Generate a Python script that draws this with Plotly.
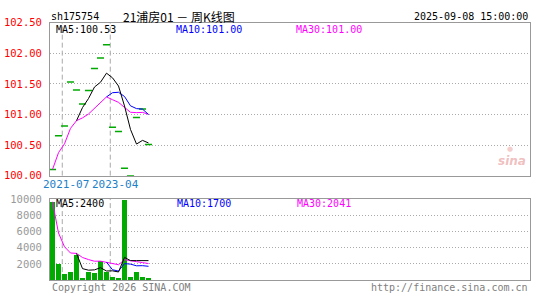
import plotly.graph_objects as go
import pandas as pd

# ---------------- data ----------------
code = "sh175754"
title = "21浦房01 － 周K线图"
timestamp = "2025-09-08 15:00:00"
x_labels = ["2021-07", "2023-04"]
x_label_idx = [3, 11]
close = [100.10, 100.65, 100.81, 101.53, 101.40, 101.17, 101.39, 101.75, 101.92,
         102.14, 100.79, 100.72, 100.12, 100.00, 100.95, 101.09, 100.51]
volume = [9650, 1950, 700, 1050, 3100, 250, 1000, 900, 2400,
          1050, 350, 300, 9900, 400, 1050, 400, 250]
price_ticks = [100.0, 100.5, 101.0, 101.5, 102.0, 102.5]
vol_ticks = [2000, 4000, 6000, 8000, 10000]

# ---------------- derived ----------------
idx = list(range(1, len(close) + 1))
c = pd.Series(close)
v = pd.Series(volume)
ma5 = c.rolling(5).mean()
ma10 = c.rolling(10).mean()
ma30 = c.rolling(30, min_periods=1).mean()
vma5 = v.rolling(5).mean()
vma10 = v.rolling(10).mean()
vma30 = v.rolling(30, min_periods=1).mean()

W, H = 545, 300
def fx(px): return px / W
def fy(py): return 1 - py / H

GREEN = "#00AA00"
MONO = "DejaVu Sans Mono"
PX0, PX1 = 50, 530
P_TOP, P_BOT = 17.3, 176.7
V_TOP, V_BOT = 201, 285.5
x_range = [0.583, 0.583 + (PX1 - PX0) / 6]

fig = go.Figure()
# price panel
fig.add_trace(go.Scatter(x=idx, y=close, mode="markers", xaxis="x", yaxis="y",
                         marker=dict(symbol="line-ew", size=5,
                                     line=dict(color=GREEN, width=1.5)),
                         hoverinfo="skip"))
for s, col in [(ma30, "#FF00FF"), (ma10, "#0000FF"), (ma5, "#000000")]:
    fig.add_trace(go.Scatter(x=idx, y=s, mode="lines", xaxis="x", yaxis="y",
                             line=dict(color=col, width=1), hoverinfo="skip"))
# volume panel
fig.add_trace(go.Bar(x=idx, y=volume, xaxis="x2", yaxis="y2", width=0.83,
                     marker=dict(color=GREEN, line=dict(width=0)), hoverinfo="skip"))
for s, col in [(vma30, "#FF00FF"), (vma10, "#0000FF"), (vma5, "#000000")]:
    fig.add_trace(go.Scatter(x=idx, y=s, mode="lines", xaxis="x2", yaxis="y2",
                             line=dict(color=col, width=1), hoverinfo="skip"))

axis_common = dict(showline=True, mirror=True, linecolor="#999999", linewidth=1,
                   zeroline=False, ticks="", fixedrange=True)

fig.update_layout(
    width=W, height=H, margin=dict(l=0, r=0, t=0, b=0),
    paper_bgcolor="white", plot_bgcolor="white", showlegend=False,
    bargap=0,
    xaxis=dict(domain=[fx(PX0), fx(PX1)], range=x_range, anchor="y",
               showgrid=False, showticklabels=False, **axis_common),
    yaxis=dict(domain=[fy(P_BOT), fy(P_TOP)], range=[price_ticks[0], price_ticks[-1]],
               anchor="x", tickvals=price_ticks,
               ticktext=[f"{t:.2f}" for t in price_ticks],
               tickfont=dict(family=MONO, size=10.5, color="#FF0000"),
               showgrid=True, gridcolor="#AAAAAA", griddash="1px,2px", gridwidth=1,
               ticklabelstandoff=5, **axis_common),
    xaxis2=dict(domain=[fx(PX0), fx(PX1)], range=x_range, anchor="y2",
                showgrid=False, showticklabels=False, **axis_common),
    yaxis2=dict(domain=[fy(V_BOT), fy(V_TOP)], range=[0, vol_ticks[-1]],
                anchor="x2", tickvals=vol_ticks, ticktext=[str(t) for t in vol_ticks],
                tickfont=dict(family=MONO, size=10.5, color="#999999"),
                showgrid=True, gridcolor="#AAAAAA", griddash="1px,2px", gridwidth=1,
                ticklabelstandoff=5, **axis_common),
)

shapes = []
for i in x_label_idx:
    for xr, (yt, yb) in [("x", (P_TOP, P_BOT)), ("x2", (V_TOP, V_BOT))]:
        shapes.append(dict(type="line", xref=xr, yref="paper", x0=i - 0.37, x1=i - 0.37,
                           y0=fy(yb), y1=fy(yt),
                           line=dict(color="#AAAAAA", width=1, dash="5px,3px"),
                           layer="below"))
fig.update_layout(shapes=shapes)

ann = []
def text(x, y, s, color="#000000", size=10, anchor="left", family=MONO):
    ann.append(dict(x=fx(x), y=fy(y), xref="paper", yref="paper", text=s,
                    showarrow=False, xanchor=anchor, yanchor="middle",
                    font=dict(family=family, size=size, color=color)))

text(49, 11, code, size=10)
text(121, 11, title, size=12, family="Noto Sans CJK SC")
text(530, 11, timestamp, size=10, anchor="right")
text(54, 24, f"MA5:{ma5.iloc[-1]:.2f}", size=10)
text(174, 24, f"MA10:{ma10.iloc[-1]:.2f}", "#0000FF", size=10)
text(294, 24, f"MA30:{ma30.iloc[-1]:.2f}", "#FF00FF", size=10)
text(54, 206, f"MA5:{vma5.iloc[-1]:.0f}", size=10)
text(175, 206, f"MA10:{vma10.iloc[-1]:.0f}", "#0000FF", size=10)
text(295, 206, f"MA30:{vma30.iloc[-1]:.0f}", "#FF00FF", size=10)
text(41, 186, x_labels[0], "#1E80C8", size=11)
text(90, 186, x_labels[1], "#1E80C8", size=11)
text(50, 293, "Copyright 2026 SINA.COM", "#808080", size=10)
text(530, 293, "http://finance.sina.com.cn", "#808080", size=10, anchor="right")
text(512, 161, "<b><i>sina</i></b>", "rgba(215,90,90,0.40)", size=12, anchor="center",
     family="DejaVu Sans")
text(510, 149, "●", "rgba(225,110,110,0.35)", size=7, anchor="center", family="DejaVu Sans")
fig.update_layout(annotations=ann)

fig.write_html("out.html")
